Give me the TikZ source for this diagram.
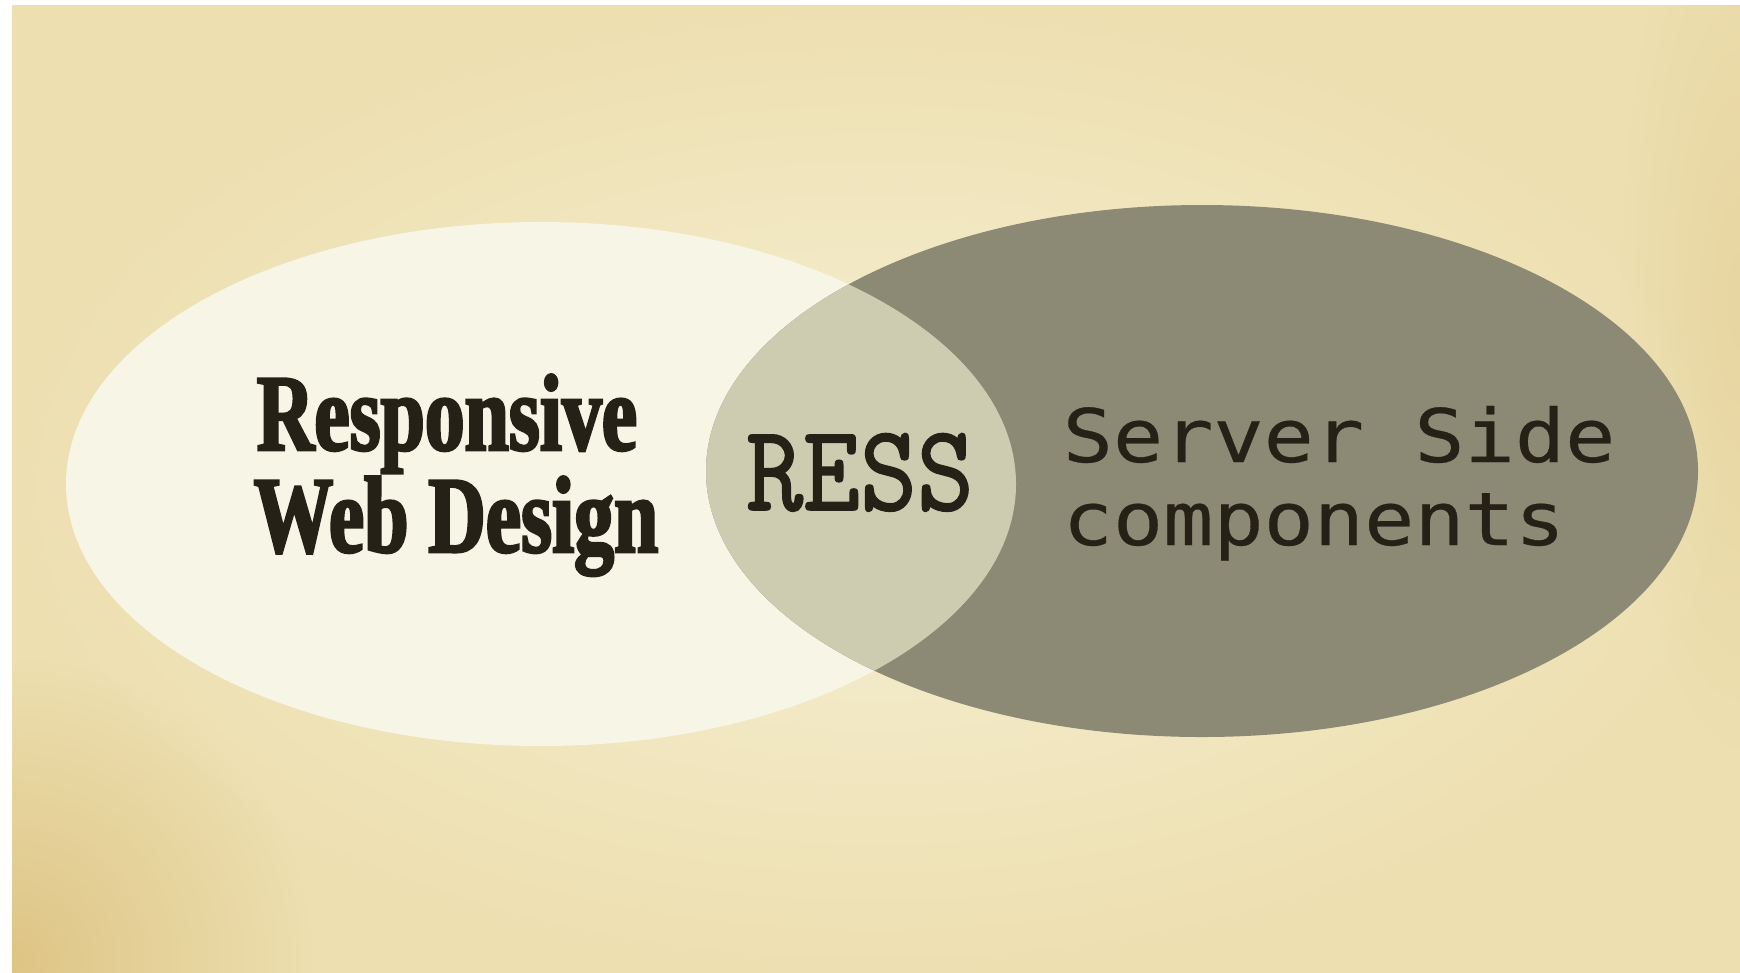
\documentclass[tikz,border=0pt]{standalone}
\usepackage{fontspec}
\usepackage{xcolor}
\usetikzlibrary{fadings}
\newfontfamily\rwdfont[FakeStretch=0.73, FakeBold=2.4]{Liberation Serif}
\newfontfamily\ressfont[FakeStretch=0.88, FakeBold=1.3]{lmmono10-regular.otf}
\newfontfamily\ssfont[FakeStretch=1.13, FakeBold=0.4]{DejaVu Sans Mono}
\definecolor{paperlight}{HTML}{F6F0D5}
\definecolor{paperdark}{HTML}{EDDFB0}
\definecolor{papergold}{HTML}{D6B76E}
\definecolor{rwdfill}{HTML}{F7F5E5}
\definecolor{ssfill}{HTML}{8C8974}
\definecolor{lensfill}{HTML}{CECCB0}
\definecolor{ink}{HTML}{262117}
\tikzfading[name=softspot, inner color=transparent!35, outer color=transparent!100]

\begin{document}
\begin{tikzpicture}[x=0.01cm, y=-0.01cm,
    rwd/.style={font=\rwdfont\bfseries\fontsize{31}{31}\selectfont,
                text=ink, inner sep=0pt, anchor=base},
    ress/.style={font=\ressfont\fontsize{35}{35}\selectfont,
                 text=ink, inner sep=0pt, anchor=base},
    ssc/.style={font=\ssfont\fontsize{21}{21}\selectfont,
                text=ink, inner sep=0pt, anchor=base west},
]
\useasboundingbox (0,0) rectangle (1740,972);

% Papel de fondo
\fill[white] (0,0) rectangle (1740,972);
\shade[inner color=paperlight, outer color=paperdark] (12,5) rectangle (1740,972);
\begin{scope}
    \clip (12,5) rectangle (1740,972);
    \fill[papergold, path fading=softspot] (12,960) ellipse [x radius=300, y radius=300];
    \fill[papergold, path fading=softspot, opacity=0.35] (1740,300) ellipse [x radius=120, y radius=450];
\end{scope}

% Centros de los conjuntos
\coordinate (rwdc) at (541,484);
\coordinate (ssc) at (1202,471);

% Conjuntos
\fill[rwdfill] (rwdc) ellipse [x radius=475, y radius=262];
\fill[ssfill] (ssc) ellipse [x radius=496, y radius=266];
\begin{scope}
    \clip (rwdc) ellipse [x radius=475, y radius=262];
    \fill[lensfill] (ssc) ellipse [x radius=496, y radius=266];
\end{scope}

% Textos
\node[rwd] (resp) at (447,450) {Responsive};
\node[rwd] (webd) at (456,552) {Web Design};

\node[ress] (ress) at (860,510) {RESS};

\node[ssc] (server) at (1062,462) {Server Side};
\node[ssc] (comp) at (1062,545) {components};

\end{tikzpicture}
\end{document}
